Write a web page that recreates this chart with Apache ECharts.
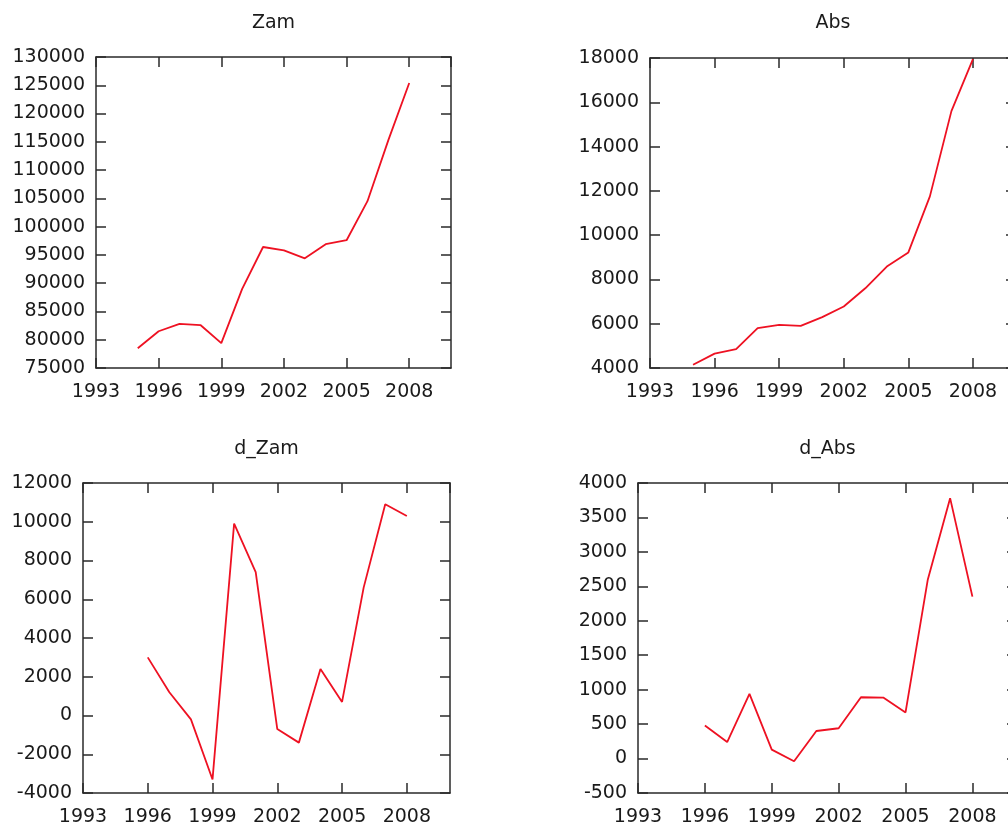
<!DOCTYPE html>
<html>
<head>
<meta charset="utf-8">
<script src="https://cdn.jsdelivr.net/npm/echarts@6/dist/echarts.min.js"></script>
<style>
  html, body { margin: 0; padding: 0; background: #fff; overflow: hidden; }
  #chart { width: 1020px; height: 827px; }
</style>
</head>
<body>
<div id="chart"></div>
<script>
// years
const years = [1995, 1996, 1997, 1998, 1999, 2000, 2001, 2002, 2003, 2004, 2005, 2006, 2007, 2008];
const dYears = years.slice(1);

// series values
const zam = [78500, 81500, 82800, 82600, 79400, 89000, 96400, 95800, 94400, 96900, 97600, 104500, 115300, 125400];
const abs = [4150, 4650, 4850, 5800, 5950, 5900, 6300, 6780, 7600, 8580, 9220, 11750, 15600, 17950];
const dZam = [3000, 1200, -200, -3300, 9900, 7400, -700, -1400, 2400, 700, 6600, 10900, 10300];
const dAbs = [480, 240, 940, 130, -40, 400, 440, 890, 885, 670, 2600, 3780, 2350];

// panel names and y scales
const titles = ['Zam', 'Abs', 'd_Zam', 'd_Abs'];
const yMins = [75000, 4000, -4000, -500];
const yMaxs = [130000, 18000, 12000, 4000];
const yIntervals = [5000, 2000, 2000, 500];

// plot boxes (left, top, width, height)
const boxes = [
    [96, 57, 355, 311],
    [650, 58, 366, 310],
    [83, 483, 367, 310],
    [638, 483, 379, 310]
];

const seriesData = [
    years.map((y, i) => [y, zam[i]]),
    years.map((y, i) => [y, abs[i]]),
    dYears.map((y, i) => [y, dZam[i]]),
    dYears.map((y, i) => [y, dAbs[i]])
];

const font = 'DejaVu Sans';
const ink = '#1a1a1a';
const frame = '#2a2a2a';
const plain = (v) => String(v);

let grids = [], xAxes = [], yAxes = [], series = [], titleList = [];

boxes.forEach((b, i) => {
    grids.push({ left: b[0], top: b[1], width: b[2], height: b[3], show: false });

    titleList.push({
        text: titles[i],
        left: b[0] + b[2] / 2,
        top: i < 2 ? 14 : 440,
        textAlign: 'center',
        padding: 0,
        textStyle: { fontFamily: font, fontSize: 19, fontWeight: 'normal', color: ink }
    });

    // 下边和上边的 x 轴
    ['bottom', 'top'].forEach((pos) => {
        xAxes.push({
            gridIndex: i,
            type: 'value',
            position: pos,
            min: 1993,
            max: 2010,
            interval: 3,
            axisLine: { show: true, onZero: false, lineStyle: { color: frame, width: 1.5 } },
            axisTick: { show: true, inside: true, length: 10, lineStyle: { color: frame, width: 1.5 } },
            axisLabel: {
                show: pos === 'bottom',
                showMaxLabel: false,
                formatter: plain,
                margin: 15,
                fontFamily: font,
                fontSize: 19,
                color: ink
            },
            splitLine: { show: false }
        });
    });

    // 左边和右边的 y 轴
    ['left', 'right'].forEach((pos) => {
        yAxes.push({
            gridIndex: i,
            type: 'value',
            position: pos,
            min: yMins[i],
            max: yMaxs[i],
            interval: yIntervals[i],
            axisLine: { show: true, onZero: false, lineStyle: { color: frame, width: 1.5 } },
            axisTick: { show: true, inside: true, length: 10, lineStyle: { color: frame, width: 1.5 } },
            axisLabel: {
                show: pos === 'left',
                formatter: plain,
                margin: 11,
                fontFamily: font,
                fontSize: 19,
                color: ink
            },
            splitLine: { show: false }
        });
    });

    series.push({
        type: 'line',
        xAxisIndex: i * 2,
        yAxisIndex: i * 2,
        data: seriesData[i],
        symbol: 'none',
        silent: true,
        lineStyle: { color: '#ee1122', width: 1.8 }
    });
});

const myChart = echarts.init(document.getElementById('chart'));
myChart.setOption({
    backgroundColor: '#fff',
    animation: false,
    title: titleList,
    grid: grids,
    xAxis: xAxes,
    yAxis: yAxes,
    series: series
});
</script>
</body>
</html>
